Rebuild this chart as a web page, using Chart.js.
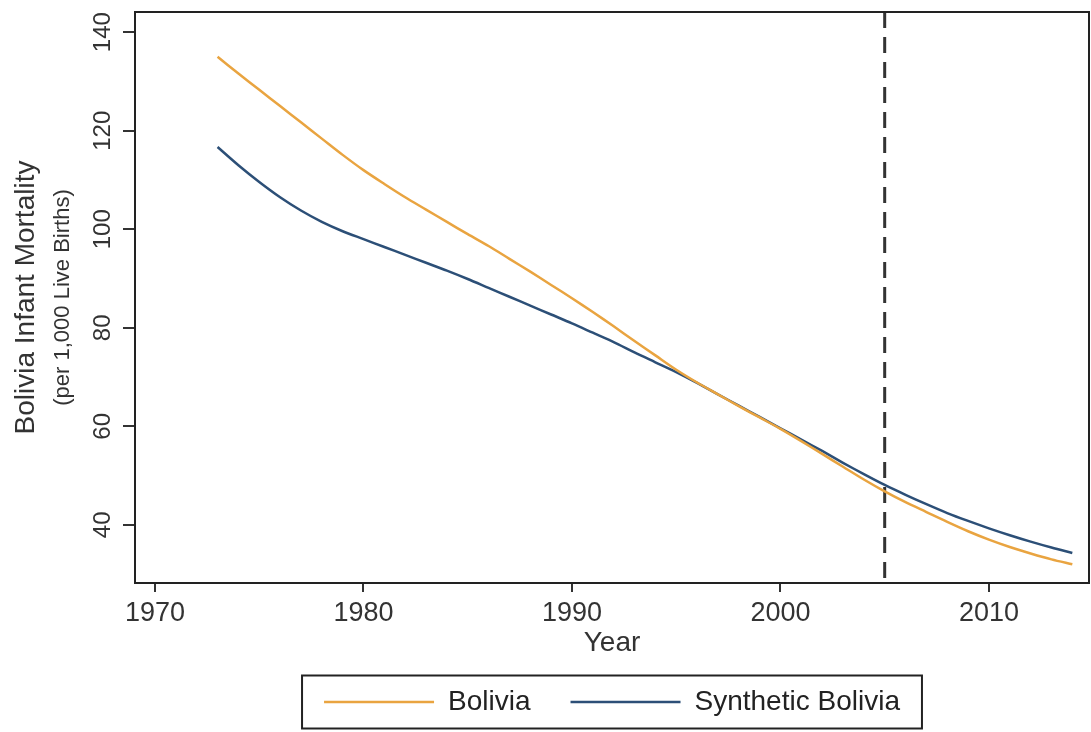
<!DOCTYPE html>
<html>
<head>
<meta charset="utf-8">
<script src="https://cdn.jsdelivr.net/npm/chart.js@4.4.1/dist/chart.umd.min.js"></script>
<style>
  html, body { margin: 0; padding: 0; background: #fff; }
</style>
</head>
<body>
<canvas id="chart" width="1091" height="732"></canvas>
<script>
'use strict';

// data
let years = [1973, 1974, 1975, 1976, 1977, 1978, 1979, 1980, 1981, 1982,
  1983, 1984, 1985, 1986, 1987, 1988, 1989, 1990, 1991, 1992,
  1993, 1994, 1995, 1996, 1997, 1998, 1999, 2000, 2001, 2002,
  2003, 2004, 2005, 2006, 2007, 2008, 2009, 2010, 2011, 2012,
  2013, 2014];
let bolivia = [135.0, 131.6, 128.3, 125.0, 121.7, 118.4, 115.1, 112.0, 109.2, 106.5,
  104.0, 101.5, 99.0, 96.6, 94.0, 91.4, 88.7, 86.0, 83.2, 80.3,
  77.3, 74.4, 71.5, 68.9, 66.5, 64.1, 61.8, 59.5, 57.0, 54.4,
  51.8, 49.2, 46.8, 44.6, 42.6, 40.6, 38.7, 37.0, 35.5, 34.2,
  33.0, 32.0];
let synthetic = [116.7, 113.0, 109.6, 106.5, 103.8, 101.5, 99.6, 98.0, 96.4, 94.8,
  93.2, 91.6, 89.9, 88.1, 86.3, 84.5, 82.7, 80.9, 79.0, 77.1,
  75.0, 73.0, 71.0, 68.8, 66.5, 64.2, 61.9, 59.6, 57.3, 55.0,
  52.6, 50.3, 48.1, 46.1, 44.2, 42.4, 40.8, 39.3, 37.9, 36.6,
  35.4, 34.3];
let seriesNames = ['Bolivia', 'Synthetic Bolivia'];
let xTicks = [1970, 1980, 1990, 2000, 2010];
let yTicks = [40, 60, 80, 100, 120, 140];
let treatYear = 2005;
let xMin = 1969.04, xMax = 2014.8;
let yMin = 28.2, yMax = 144.1;

const FONT = '"Liberation Sans", Arial, sans-serif';
const INK = '#333';

let canvasElem = document.getElementById('chart');

// frame, rotated y labels, y titles and legend box
const extras = {
  id: 'extras',
  afterDraw(chart) {
    const ctx = chart.ctx;
    const a = chart.chartArea;
    const ys = chart.scales.y;
    ctx.save();
    ctx.strokeStyle = '#222';
    ctx.lineWidth = 2;
    ctx.strokeRect(a.left, a.top, a.right - a.left, a.bottom - a.top);

    ctx.fillStyle = INK;
    ctx.textAlign = 'center';
    ctx.textBaseline = 'middle';
    ctx.font = '24px ' + FONT;
    for (let v of yTicks) {
      ctx.save();
      ctx.translate(a.left - 32, ys.getPixelForValue(v));
      ctx.rotate(-Math.PI / 2);
      ctx.fillText(String(v), 0, 0);
      ctx.restore();
    }

    let cy = (a.top + a.bottom) / 2;
    ctx.save();
    ctx.translate(26, cy);
    ctx.rotate(-Math.PI / 2);
    ctx.font = '28px ' + FONT;
    ctx.fillText('Bolivia Infant Mortality', 0, 0);
    ctx.restore();
    ctx.save();
    ctx.translate(63, cy);
    ctx.rotate(-Math.PI / 2);
    ctx.font = '22px ' + FONT;
    ctx.fillText('(per 1,000 Live Births)', 0, 0);
    ctx.restore();

    let hb = chart.legend.legendHitBoxes;
    if (hb && hb.length) {
      let first = hb[0], last = hb[hb.length - 1];
      let midY = first.top + first.height / 2;
      let l = first.left - 22, r = last.left + last.width + 22;
      ctx.strokeStyle = '#222';
      ctx.lineWidth = 2;
      ctx.strokeRect(l, midY - 26.5, r - l, 53);
    }
    ctx.restore();
  }
};

const config = {
  type: 'line',
  data: {
    datasets: [
      {
        label: seriesNames[0],
        data: years.map((yr, i) => ({x: yr, y: bolivia[i]})),
        borderColor: '#e9a440',
        borderWidth: 2.5,
        pointRadius: 0,
        tension: 0.3
      },
      {
        label: seriesNames[1],
        data: years.map((yr, i) => ({x: yr, y: synthetic[i]})),
        borderColor: '#2c4f77',
        borderWidth: 2.5,
        pointRadius: 0,
        tension: 0.3
      },
      {
        label: 'treatment',
        data: [{x: treatYear, y: yMax}, {x: treatYear, y: yMin}],
        borderColor: '#333',
        borderWidth: 3,
        borderDash: [16, 9],
        pointRadius: 0
      }
    ]
  },
  options: {
    responsive: false,
    animation: false,
    devicePixelRatio: 1,
    layout: { padding: { left: 0, top: 12, right: 2, bottom: 6 } },
    plugins: {
      tooltip: { enabled: false },
      legend: {
        position: 'bottom',
        fullSize: false,
        labels: {
          filter: item => item.datasetIndex < 2,
          usePointStyle: true,
          pointStyle: 'line',
          pointStyleWidth: 110,
          padding: 40,
          color: '#222',
          font: { size: 28, family: FONT }
        }
      }
    },
    scales: {
      x: {
        type: 'linear',
        min: xMin,
        max: xMax,
        afterBuildTicks: s => { s.ticks = xTicks.map(v => ({value: v})); },
        afterFit: s => { s.height = 65; },
        ticks: {
          callback: v => String(v),
          color: INK,
          padding: 8,
          maxRotation: 0,
          font: { size: 27, family: FONT, lineHeight: 1 }
        },
        grid: { drawOnChartArea: false, tickLength: 9, color: INK, lineWidth: 2 },
        border: { display: false },
        title: {
          display: true,
          text: 'Year',
          color: INK,
          padding: { top: 0, bottom: -9 },
          font: { size: 28, family: FONT, lineHeight: 1 }
        }
      },
      y: {
        type: 'linear',
        min: yMin,
        max: yMax,
        afterBuildTicks: s => { s.ticks = yTicks.map(v => ({value: v})); },
        afterFit: s => { s.width = 135; },
        ticks: { display: false },
        grid: { drawOnChartArea: false, tickLength: 12, color: INK, lineWidth: 2 },
        border: { display: false }
      }
    }
  },
  plugins: [extras]
};

new Chart(canvasElem, config);
</script>
</body>
</html>
